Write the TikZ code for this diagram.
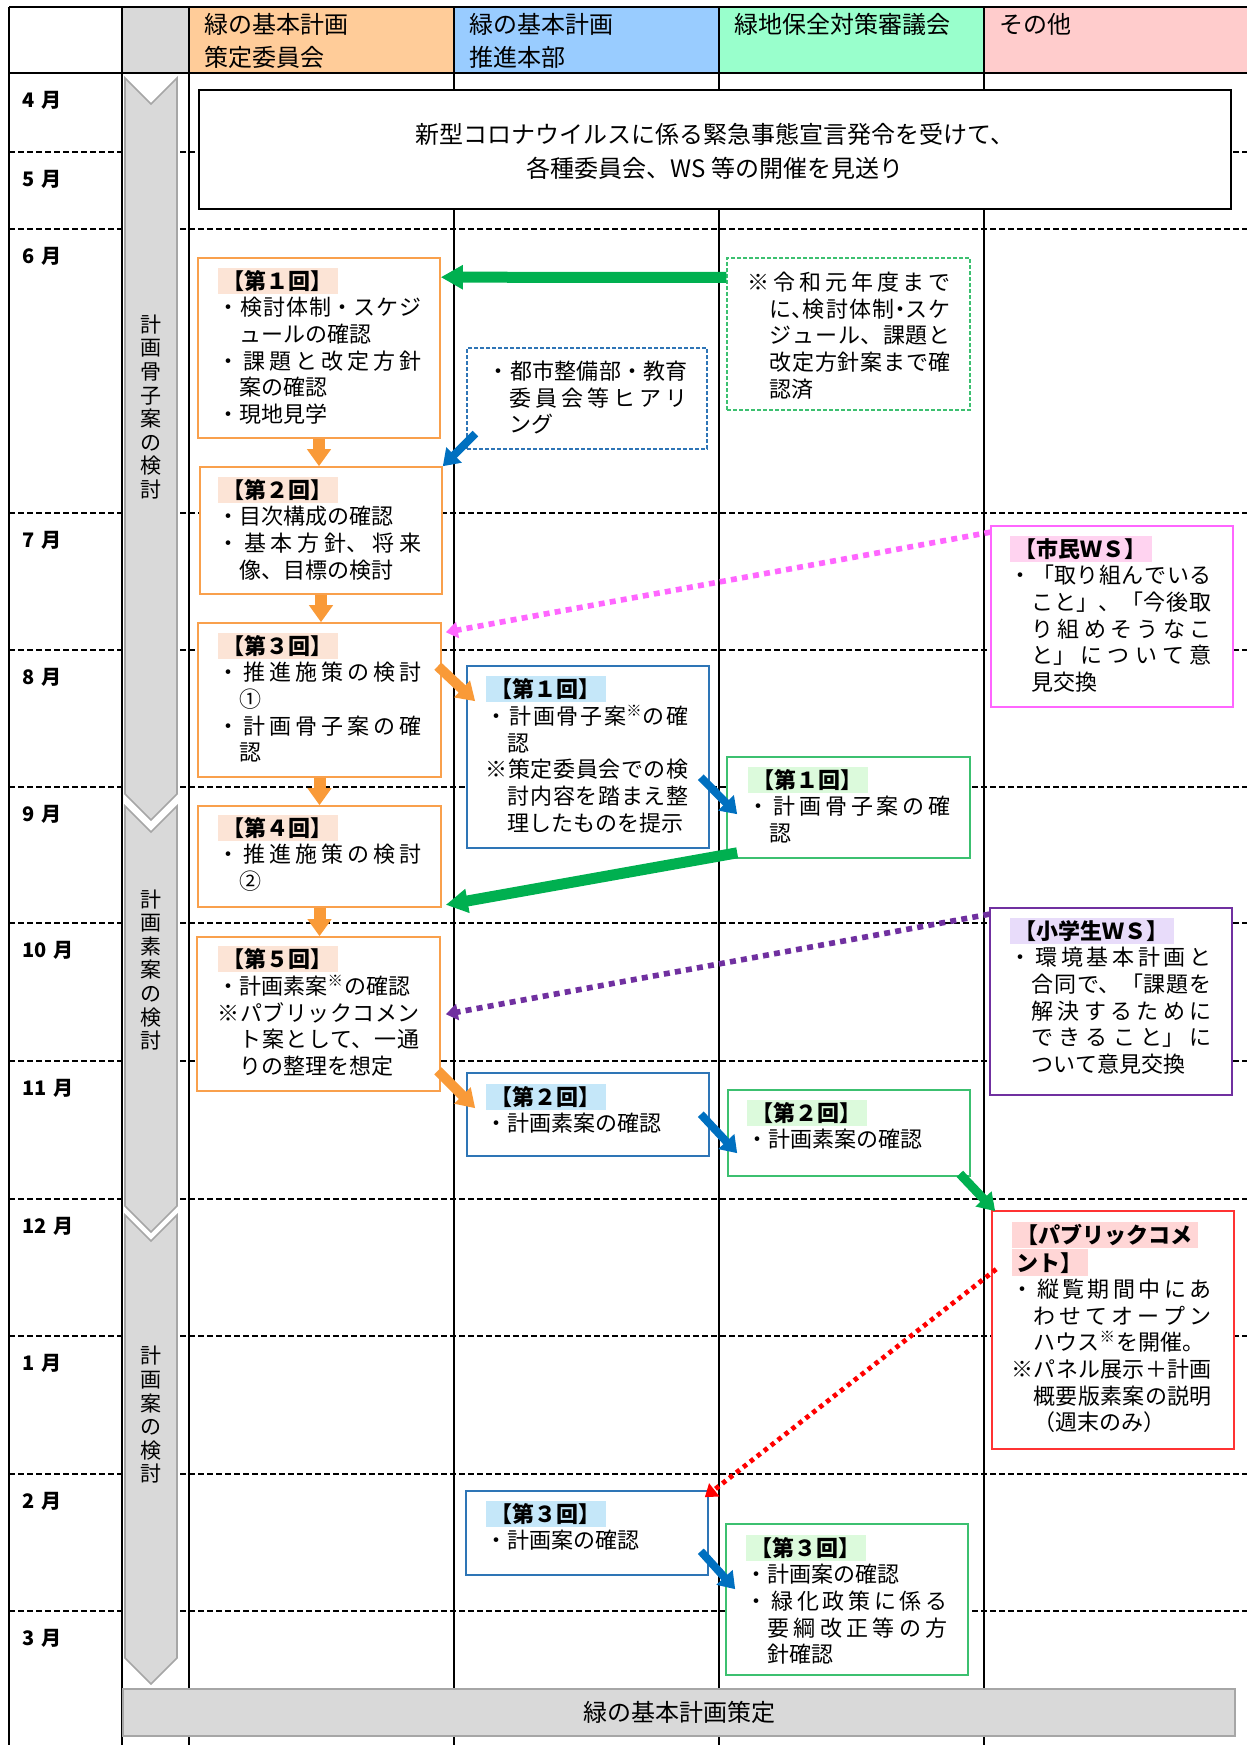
\documentclass[tikz,border=0pt]{standalone}
\usepackage{fontspec}
\setmainfont{Noto Sans CJK JP}
\XeTeXlinebreaklocale "ja"
\XeTeXlinebreakskip=0pt plus 3pt
\usepackage{tikz}
\usetikzlibrary{arrows.meta, positioning, calc, fit}

\definecolor{hdOrange}{HTML}{FFCC99}
\definecolor{hdBlue}{HTML}{99CCFF}
\definecolor{hdGreen}{HTML}{99FFCC}
\definecolor{hdPink}{HTML}{FFCCCC}
\definecolor{hdGray}{HTML}{D9D9D9}
\definecolor{chevGray}{HTML}{A6A6A6}
\definecolor{lnOrange}{HTML}{F9A04C}
\definecolor{lnBlue}{HTML}{2E75B6}
\definecolor{lnGreen}{HTML}{3CC070}
\definecolor{lnPink}{HTML}{FF66FF}
\definecolor{lnPurple}{HTML}{7030A0}
\definecolor{lnRed}{HTML}{FF3333}
\definecolor{tlOrange}{HTML}{FCE4D6}
\definecolor{tlBlue}{HTML}{C5E7F9}
\definecolor{tlGreen}{HTML}{DCFADC}
\definecolor{tlPink}{HTML}{FFD3F0}
\definecolor{tlPurple}{HTML}{E8DCFA}
\definecolor{tlRed}{HTML}{FFD6D6}
\definecolor{arOrange}{HTML}{F99A38}
\definecolor{arBlue}{HTML}{0070C0}
\definecolor{arGreen}{HTML}{00B050}
\definecolor{dotRed}{HTML}{FF0000}

\newcommand{\ind}{\hspace*{1em}}
\newcommand{\kome}{\textsuperscript{※}}
\newcommand{\hwl}[1]{\makebox[0.5em][l]{#1}}
\newcommand{\hwc}[1]{\makebox[0.5em][c]{#1}}

\begin{document}
\begin{tikzpicture}[x=0.5pt, y=-0.5pt,
    % grid
    colline/.style={line width=1pt},
    rowline/.style={line width=0.8pt, dash pattern=on 3pt off 1.5pt},
    hdcell/.style={inner sep=0pt, draw=none},
    hdtext/.style={anchor=north west, align=left, inner sep=0pt, font=\fontsize{12}{16.5}\selectfont},
    month/.style={anchor=west, inner sep=0pt, font=\bfseries\fontsize{10}{12}\selectfont},
    chev/.style={fill=hdGray, draw=chevGray, line width=0.8pt},
    chevtext/.style={align=center, inner sep=0pt, font=\fontsize{10.5}{11.8}\selectfont},
    notice/.style={draw, line width=1pt, fill=white, inner sep=0pt},
    noticetext/.style={align=center, inner sep=0pt, font=\fontsize{12}{17}\selectfont},
    finalbar/.style={fill=hdGray, draw=chevGray, line width=1pt, inner sep=0pt},
    % boxes
    stagebox/.style={inner sep=0pt, fill=white, line width=0.8pt},
    boxO/.style={stagebox, draw=lnOrange},
    boxB/.style={stagebox, draw=lnBlue},
    boxG/.style={stagebox, draw=lnGreen},
    boxBd/.style={boxB, line width=0.6pt, dash pattern=on 2pt off 1pt},
    boxGd/.style={boxG, line width=0.6pt, dash pattern=on 2pt off 1pt},
    boxP/.style={stagebox, draw=lnPink},
    boxV/.style={stagebox, draw=lnPurple},
    boxR/.style={stagebox, draw=lnRed},
    ttl/.style={anchor=north west, inner xsep=2.5pt, inner ysep=1.2pt, text height=9.7pt, text depth=1.3pt,
                font=\bfseries\fontsize{11}{13.35}\selectfont},
    ttlO/.style={ttl, fill=tlOrange},
    ttlB/.style={ttl, fill=tlBlue},
    ttlG/.style={ttl, fill=tlGreen},
    ttlP/.style={ttl, fill=tlPink},
    ttlV/.style={ttl, fill=tlPurple},
    ttlR/.style={ttl, fill=tlRed},
    bodytext/.style={anchor=north west, align=justify, inner sep=0pt, text width=101.5pt,
                     font=\fontsize{11}{13.35}\selectfont},
    % connectors
    flowO/.style={arOrange, line width=6pt, -{Triangle[width=11.5pt, length=8.5pt]}},
    flowOd/.style={arOrange, line width=5pt, -{Triangle[width=11pt, length=9pt]}},
    flowB/.style={arBlue, line width=4pt, -{Triangle[width=10.5pt, length=8pt]}},
    flowG/.style={arGreen, line width=5.5pt, -{Triangle[width=11.5pt, length=11pt]}},
    flowGs/.style={arGreen, line width=4.5pt, -{Triangle[width=10.5pt, length=8.5pt]}},
    dotP/.style={lnPink, line width=2.8pt, dash pattern=on 3pt off 2.6pt, -{Triangle[width=8pt, length=6pt]}},
    dotV/.style={lnPurple, line width=2.8pt, dash pattern=on 3pt off 2.6pt, -{Triangle[width=8pt, length=6pt]}},
    dotR/.style={dotRed, line width=2.4pt, dash pattern=on 2.2pt off 2.2pt, -{Triangle[width=8pt, length=6pt]}}
]
\useasboundingbox (0,0) rectangle (1247,1745);

% Header cells
\node[hdcell, fill=hdGray, fit={(122,7) (189,73)}] (hdg) {};
\node[hdcell, fill=hdOrange, fit={(189,7) (454,73)}] (hd1) {};
\node[hdcell, fill=hdBlue, fit={(454,7) (719,73)}] (hd2) {};
\node[hdcell, fill=hdGreen, fit={(719,7) (984,73)}] (hd3) {};
\node[hdcell, fill=hdPink, fit={(984,7) (1247,73)}] (hd4) {};
\node[hdtext] (hd1t) at ($(hd1.north west)+(15,6)$) {緑の基本計画\\策定委員会};
\node[hdtext] (hd2t) at ($(hd2.north west)+(15,6)$) {緑の基本計画\\推進本部};
\node[hdtext] (hd3t) at ($(hd3.north west)+(15,6)$) {緑地保全対策審議会};
\node[hdtext] (hd4t) at ($(hd4.north west)+(15,6)$) {その他};

% Month rows
\foreach \yy in {152,229,513,650,787,923,1061,1199,1336,1474,1611}
    \draw[rowline] (9,\yy) -- (1247,\yy);
\foreach \xx in {9,122,189,454,719,984}
    \draw[colline] (\xx,7) -- (\xx,1745);
\draw[line width=1.3pt] (9,7) -- (1247,7);
\draw[line width=1.3pt] (9,73) -- (1247,73);

\foreach \m/\yy in {4/73,5/152,6/229,7/513,8/650,9/787,10/923,11/1061,12/1199,1/1336,2/1474,3/1611}
    \node[month] (m\m) at (22,{\yy+27}) {\m\hspace{0.35em}月};

% Phase chevrons
\foreach \ta/\tb in {78/794, 806/1206, 1215/1658}
    \draw[chev] (125,\ta) -- (151,{\ta+26}) -- (177,\ta) -- (177,\tb) -- (151,{\tb+26}) -- (125,\tb) -- cycle;
\node[chevtext] (ph1) at (151,407) {計\\画\\骨\\子\\案\\の\\検\\討};
\node[chevtext] (ph2) at (151,970) {計\\画\\素\\案\\の\\検\\討};
\node[chevtext] (ph3) at (151,1415) {計\\画\\案\\の\\検\\討};

% Notice
\node[notice, fit={(199,90) (1231,209)}] (notice) {};
\node[noticetext] (noticet) at ($(notice.center)+(0,2)$) {新型コロナウイルスに係る緊急事態宣言発令を受けて、\\各種委員会、WS 等の開催を見送り};

% 策定委員会
\node[boxO, fit={(198,258) (440,438)}] (sak1) {};
\node[ttlO] (sak1t) at ($(sak1.north west)+(20,10)$) {【第１回】};
\node[bodytext, text width=102pt] (sak1b) at ($(sak1t.south west)+(0,2)$) {・検討体制・スケジ\linebreak\ind ュールの確認\\・課題と改定方針\linebreak\ind 案の確認\\・現地見学};

\node[boxO, fit={(200,467) (442,594)}] (sak2) {};
\node[ttlO] (sak2t) at ($(sak2.north west)+(18,10)$) {【第２回】};
\node[bodytext, text width=102pt] (sak2b) at ($(sak2t.south west)+(0,2)$) {・目次構成の確認\\・基本方針、将来\linebreak\ind 像、目標の検討};

\node[boxO, fit={(198,623) (441,777)}] (sak3) {};
\node[ttlO] (sak3t) at ($(sak3.north west)+(20,10)$) {【第３回】};
\node[bodytext, text width=102pt] (sak3b) at ($(sak3t.south west)+(0,2)$) {・推進施策の検討\linebreak\ind ①\\・計画骨子案の確\linebreak\ind 認};

\node[boxO, fit={(198,806) (441,907)}] (sak4) {};
\node[ttlO] (sak4t) at ($(sak4.north west)+(20,9)$) {【第４回】};
\node[bodytext, text width=102pt] (sak4b) at ($(sak4t.south west)+(0,2)$) {・推進施策の検討\linebreak\ind ②};

\node[boxO, fit={(197,937) (440,1091)}] (sak5) {};
\node[ttlO] (sak5t) at ($(sak5.north west)+(21,9)$) {【第５回】};
\node[bodytext, text width=101pt] (sak5b) at ($(sak5t.south west)+(0,2)$) {・計画素案\kome の確認\\※パブリックコメン\linebreak\ind ト案として、一通\linebreak\ind りの整理を想定};

% 推進本部
\node[boxBd, fit={(467,348) (707,449)}] (hear) {};
\node[bodytext, text width=100pt] (heart) at ($(hear.north west)+(21,13)$) {・都市整備部・教育\linebreak\ind 委員会等ヒアリ\linebreak\ind ング};

\node[boxB, fit={(467,666) (709,848)}] (sui1) {};
\node[ttlB] (sui1t) at ($(sui1.north west)+(19,10)$) {【第１回】};
\node[bodytext] (sui1b) at ($(sui1t.south west)+(0,2)$) {・計画骨子案\kome の確\linebreak\ind 認\\※策定委員会での検\linebreak\ind 討内容を踏まえ整\linebreak\ind 理したものを提示};

\node[boxB, fit={(467,1073) (709,1156)}] (sui2) {};
\node[ttlB] (sui2t) at ($(sui2.north west)+(19,11)$) {【第２回】};
\node[bodytext] (sui2b) at ($(sui2t.south west)+(0,2)$) {・計画素案の確認};

\node[boxB, fit={(466,1491) (708,1575)}] (sui3) {};
\node[ttlB] (sui3t) at ($(sui3.north west)+(20,10)$) {【第３回】};
\node[bodytext] (sui3b) at ($(sui3t.south west)+(0,2)$) {・計画案の確認};

% 審議会
\node[boxGd, fit={(727,258) (970,410)}] (rei) {};
\node[bodytext] (reit) at ($(rei.north west)+(21,14)$) {※令和元年度まで\linebreak\ind に\hwl{、}検討体制\hwc{・}スケ\linebreak\ind ジュール、課題と\linebreak\ind 改定方針案まで確\linebreak\ind 認済};

\node[boxG, fit={(727,757) (970,858)}] (shin1) {};
\node[ttlG] (shin1t) at ($(shin1.north west)+(21,10)$) {【第１回】};
\node[bodytext] (shin1b) at ($(shin1t.south west)+(0,2)$) {・計画骨子案の確\linebreak\ind 認};

\node[boxG, fit={(728,1090) (970,1176)}] (shin2) {};
\node[ttlG] (shin2t) at ($(shin2.north west)+(19,10)$) {【第２回】};
\node[bodytext] (shin2b) at ($(shin2t.south west)+(0,2)$) {・計画素案の確認};

\node[boxG, fit={(726,1524) (968,1675)}] (shin3) {};
\node[ttlG] (shin3t) at ($(shin3.north west)+(20,11)$) {【第３回】};
\node[bodytext, text width=101pt] (shin3b) at ($(shin3t.south west)+(0,2)$) {・計画案の確認\\・緑化政策に係る\linebreak\ind 要綱改正等の方\linebreak\ind 針確認};

% その他
\node[boxP, fit={(991,526) (1233,707)}] (shimin) {};
\node[ttlP] (shimint) at ($(shimin.north west)+(19,10)$) {【市民ＷＳ】};
\node[bodytext, text width=101pt] (shiminb) at ($(shimint.south west)+(0,2)$) {・「取り組んでいる\linebreak\ind こと」、「今後取\linebreak\ind り組めそうなこ\linebreak\ind と」について意\linebreak\ind 見交換};

\node[boxV, fit={(990,908) (1232,1095)}] (shogaku) {};
\node[ttlV] (shogakut) at ($(shogaku.north west)+(20,10)$) {【小学生ＷＳ】};
\node[bodytext, text width=101pt] (shogakub) at ($(shogakut.south west)+(0,2)$) {・環境基本計画と\linebreak\ind 合同で、「課題を\linebreak\ind 解決するために\linebreak\ind できること」に\linebreak\ind ついて意見交換};

\node[boxR, fit={(992,1211) (1234,1449)}] (pub) {};
\node[ttlR] (pubtA) at ($(pub.north west)+(20,11)$) {【パブリックコメ};
\node[ttlR] (pubtB) at (pubtA.south west) {ント】};
\node[bodytext, text width=100pt] (pubb) at ($(pubtB.south west)+(0,2)$) {・縦覧期間中にあ\linebreak\ind わせてオープン\linebreak\ind ハウス\kome を開催。\\※パネル展示＋計画\linebreak\ind 概要版素案の説明\linebreak\ind （週末のみ）};

% Final
\node[finalbar, fit={(123,1689) (1235,1736)}] (final) {};
\node[noticetext] (finalt) at (final.center) {緑の基本計画策定};

% Connections
\foreach \a/\b in {1/2,2/3,3/4,4/5}
    \draw[flowO] (sak\a.south) -- (sak\a.south |- sak\b.north);

\draw[flowG] ($(rei.north west)+(0,20)$) -- ($(sak1.north east)+(0,20)$);
\draw[flowB] ($(hear.south west)+(9,-16)$) -- (sak2.north east);
\draw[dotP] ($(shimin.north west)+(0,7)$) -- ($(sak3.north east)+(4,10)$);
\draw[flowOd] ($(sak3.north east)+(-4,44)$) -- ($(sui1.north west)+(9,36)$);
\draw[flowB] ($(sui1.north east)+(-9,112)$) -- ($(shin1.north west)+(11,58)$);
\draw[flowG] ($(shin1.south west)+(11,-6)$) -- ($(sak4.south east)+(4,-3)$);
\draw[dotV] ($(shogaku.north west)+(0,7)$) -- ($(sak5.north east)+(5,78)$);
\draw[flowOd] ($(sak5.south east)+(-3,-21)$) -- ($(sui2.north west)+(9,36)$);
\draw[flowB] ($(sui2.north east)+(-9,42)$) -- ($(shin2.north west)+(10,64)$);
\draw[flowGs] ($(shin2.south east)+(-11,-3)$) -- ($(pub.north west)+(4,1)$);
\draw[dotR] ($(pub.north west)+(5,59)$) -- ($(sui3.north east)+(-4,7)$);
\draw[flowB] ($(sui3.north east)+(-8,61)$) -- ($(shin3.north west)+(10,66)$);

\end{tikzpicture}
\end{document}
